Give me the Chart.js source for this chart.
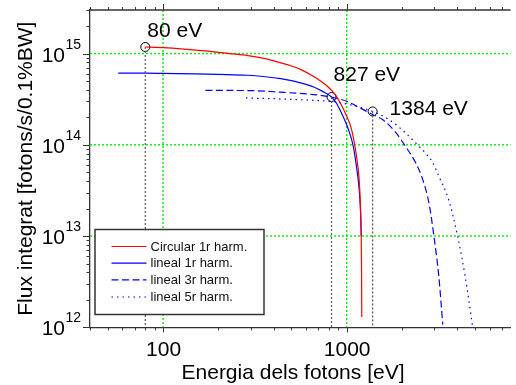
<!DOCTYPE html>
<html>
<head>
<meta charset="utf-8">
<script src="https://cdn.jsdelivr.net/npm/chart.js@4"></script>
<style>
  html, body { margin: 0; padding: 0; background: #fff; }
  #wrap { width: 516px; height: 385px; }
</style>
</head>
<body>
<div id="wrap"><canvas id="c" width="516" height="385"></canvas></div>
<script>
// Integrated flux of the undulator harmonics vs photon energy
const circularE    = [80, 100, 130, 170, 230, 290, 360, 437, 500, 560, 661, 782, 866, 930, 1000, 1064, 1132, 1170, 1190, 1200, 1205, 1208];
const circularFlux = [1.18e15, 1.16e15, 1.12e15, 1.07e15, 1.0e15, 0.95e15, 0.88e15, 0.79e15, 0.73e15, 0.67e15, 0.56e15, 0.44e15, 0.355e15, 0.28e15, 2.05e14, 1.46e14, 7.4e13, 4.1e13, 2.0e13, 1.0e13, 4.0e12, 1.3e12];

const lineal1E    = [57, 80, 100, 150, 200, 289, 360, 437, 500, 560, 661, 740, 827, 880, 920, 960, 1000, 1050, 1086, 1130, 1170, 1190, 1200];
const lineal1Flux = [6.1e14, 6.1e14, 6.05e14, 5.98e14, 5.9e14, 5.78e14, 5.57e14, 5.31e14, 5.05e14, 4.77e14, 4.3e14, 3.85e14, 3.34e14, 2.85e14, 2.4e14, 2.0e14, 1.66e14, 1.25e14, 9.6e13, 5.8e13, 3.2e13, 1.8e13, 1.0e13];

const lineal3E    = [170, 200, 289, 437, 661, 782, 900, 1000, 1230, 1384, 1574, 1858, 2090, 2380, 2580, 2806, 2985, 3175, 3337];
const lineal3Flux = [3.95e14, 3.94e14, 3.93e14, 3.77e14, 3.55e14, 3.4e14, 3.2e14, 3.0e14, 2.43e14, 2.15e14, 1.88e14, 1.35e14, 9.6e13, 6.3e13, 4.3e13, 2.3e13, 1.0e13, 3.6e12, 1.07e12];

const lineal5E    = [283, 437, 661, 810, 1000, 1130, 1384, 1706, 2090, 2478, 2703, 2925, 3178, 3592, 4017, 4420, 4840];
const lineal5Flux = [3.26e14, 3.18e14, 3.07e14, 3.0e14, 2.8e14, 2.64e14, 2.32e14, 1.88e14, 1.35e14, 9.6e13, 8.0e13, 6.5e13, 4.5e13, 2.5e13, 1.0e13, 3.6e12, 1.05e12];

const seriesNames = ['Circular 1r harm.', 'lineal 1r harm.', 'lineal 3r harm.', 'lineal 5r harm.'];

// marked energies
const markE      = [80, 827, 1384];
const markFlux   = [1.18e15, 3.34e14, 2.32e14];
const markLabels = ['80 eV', '827 eV', '1384 eV'];

const xMajorTicks = [100, 1000];
const xTickLabels = ['100', '1000'];
const yMajorExp   = [12, 13, 14, 15];

const xTitle = 'Energia dels fotons [eV]';
const yTitle = 'Flux integrat [fotons/s/0.1%BW]';

const FONT = '"Liberation Sans", Arial, Helvetica, sans-serif';

const pts = (xs, ys) => xs.map((x, i) => ({ x, y: ys[i] }));

const curveStyle = [
  { color: '#ff0000', dash: [] },
  { color: '#0000ff', dash: [] },
  { color: '#0000ff', dash: [7, 3.5] },
  { color: '#0000ff', dash: [1.5, 4] }
];
const curveData = [
  pts(circularE, circularFlux),
  pts(lineal1E, lineal1Flux),
  pts(lineal3E, lineal3Flux),
  pts(lineal5E, lineal5Flux)
];

const datasets = [];
// dotted drop lines from each marked point to the bottom axis
markE.forEach((e, i) => {
  datasets.push({
    label: 'drop' + i,
    data: [{ x: e, y: markFlux[i] }, { x: e, y: 1e12 }],
    borderColor: '#555',
    borderWidth: 1.2,
    borderDash: [2, 2],
    pointRadius: 0,
    tension: 0
  });
});
curveData.forEach((d, i) => {
  datasets.push({
    label: seriesNames[i],
    data: d,
    borderColor: curveStyle[i].color,
    borderWidth: 1.2,
    borderDash: curveStyle[i].dash,
    pointRadius: 0,
    cubicInterpolationMode: 'monotone'
  });
});
datasets.push({
  label: 'marks',
  data: pts(markE, markFlux),
  showLine: false,
  pointRadius: 4.5,
  pointBorderWidth: 1,
  pointBorderColor: '#000',
  pointBackgroundColor: 'rgba(0,0,0,0)'
});

function minorValues(lo, hi) {
  const out = [];
  for (let d = Math.floor(Math.log10(lo)); d <= Math.ceil(Math.log10(hi)); d++) {
    for (let m = 1; m <= 9; m++) {
      const v = m * Math.pow(10, d);
      if (v >= lo * 0.999 && v <= hi * 1.001) out.push({ v, major: m === 1 });
    }
  }
  return out;
}

const decorPlugin = {
  id: 'decor',
  beforeDatasetsDraw(chart) {
    const { ctx, chartArea: a, scales: { x, y } } = chart;
    ctx.save();
    ctx.strokeStyle = '#00ee00';
    ctx.lineWidth = 1.4;
    ctx.setLineDash([2, 2]);
    xMajorTicks.forEach(v => {
      const px = x.getPixelForValue(v);
      ctx.beginPath(); ctx.moveTo(px, a.top); ctx.lineTo(px, a.bottom); ctx.stroke();
    });
    yMajorExp.forEach(e => {
      if (e === 12) return;
      const py = y.getPixelForValue(Math.pow(10, e));
      ctx.beginPath(); ctx.moveTo(a.left, py); ctx.lineTo(a.right, py); ctx.stroke();
    });
    ctx.restore();
  },
  afterDraw(chart) {
    const { ctx, chartArea: a, scales: { x, y } } = chart;
    ctx.save();
    ctx.strokeStyle = '#333';
    ctx.lineWidth = 1.3;
    ctx.setLineDash([]);
    // top frame line
    ctx.beginPath(); ctx.moveTo(a.left, a.top); ctx.lineTo(a.right, a.top); ctx.stroke();

    // x tick marks, bottom (outward) and top (outward)
    ctx.lineWidth = 1;
    minorValues(x.min, x.max).forEach(t => {
      const px = Math.round(x.getPixelForValue(t.v)) + 0.5;
      const len = t.major ? 5 : 3;
      ctx.beginPath();
      ctx.moveTo(px, a.bottom); ctx.lineTo(px, a.bottom + len);
      ctx.moveTo(px, a.top); ctx.lineTo(px, a.top - (t.major ? 6 : 3));
      ctx.stroke();
    });
    // y tick marks on the left
    minorValues(y.min, y.max).forEach(t => {
      const py = Math.round(y.getPixelForValue(t.v)) + 0.5;
      ctx.beginPath();
      ctx.moveTo(a.left, py); ctx.lineTo(a.left - (t.major ? 7 : 3.5), py);
      ctx.stroke();
    });

    // x tick labels
    ctx.fillStyle = '#000';
    ctx.font = '21px ' + FONT;
    ctx.textAlign = 'center';
    ctx.textBaseline = 'alphabetic';
    xMajorTicks.forEach((v, i) => {
      ctx.fillText(xTickLabels[i], x.getPixelForValue(v) + 0.5, a.bottom + 28.5);
    });

    // y tick labels as powers of ten
    yMajorExp.forEach(e => {
      const py = y.getPixelForValue(Math.pow(10, e));
      ctx.font = '21px ' + FONT;
      ctx.textAlign = 'right';
      ctx.fillText('10', 65, py + 8);
      ctx.font = '14px ' + FONT;
      ctx.textAlign = 'left';
      ctx.fillText(String(e), 65.5, py - 5);
    });

    // x axis title
    ctx.font = '21px ' + FONT;
    ctx.textAlign = 'center';
    ctx.fillText(xTitle, 293, 378.5);

    // labels of the marked energies
    const labelOffsets = [[2, -10], [2, -15.5], [17, 3.5]];
    markE.forEach((e, i) => {
      const px = x.getPixelForValue(e);
      const py = y.getPixelForValue(markFlux[i]);
      ctx.textAlign = 'left';
      ctx.fillText(markLabels[i], px + labelOffsets[i][0], py + labelOffsets[i][1]);
    });

    // legend box
    const L = { x: 95, y: 229.5, w: 169, h: 85 };
    ctx.fillStyle = '#fff';
    ctx.fillRect(L.x, L.y, L.w, L.h);
    ctx.strokeStyle = '#333';
    ctx.lineWidth = 1.5;
    ctx.strokeRect(L.x, L.y, L.w, L.h);
    const rowY = [246, 262.7, 279.3, 296.5];
    ctx.font = '13px ' + FONT;
    ctx.textBaseline = 'middle';
    seriesNames.forEach((name, i) => {
      ctx.strokeStyle = curveStyle[i].color;
      ctx.lineWidth = 1.2;
      ctx.setLineDash(curveStyle[i].dash);
      ctx.beginPath();
      ctx.moveTo(111.5, rowY[i] + 0.5); ctx.lineTo(146.5, rowY[i] + 0.5);
      ctx.stroke();
      ctx.setLineDash([]);
      ctx.fillStyle = '#111';
      ctx.textAlign = 'left';
      ctx.fillText(name, 150.5, rowY[i] + 1);
    });
    ctx.restore();
  }
};

new Chart(document.getElementById('c').getContext('2d'), {
  type: 'line',
  data: { datasets },
  options: {
    responsive: false,
    animation: false,
    devicePixelRatio: 1,
    layout: { padding: { top: 10, right: 0, left: 0, bottom: 0 } },
    plugins: { legend: { display: false }, tooltip: { enabled: false } },
    scales: {
      x: {
        type: 'logarithmic',
        min: 40,
        max: 7800,
        ticks: { display: false },
        grid: { display: false },
        border: { display: true, color: '#333', width: 1.3 },
        afterFit(s) { s.height = 57.7; }
      },
      y: {
        type: 'logarithmic',
        min: 1e12,
        max: 3e15,
        ticks: { display: false },
        grid: { display: false },
        border: { display: true, color: '#333', width: 1.3 },
        title: {
          display: true,
          text: yTitle,
          color: '#000',
          font: { family: FONT, size: 21 },
          padding: { top: 13.4, bottom: 0 }
        },
        afterFit(s) { s.width = 90; }
      }
    }
  },
  plugins: [decorPlugin]
});
</script>
</body>
</html>
